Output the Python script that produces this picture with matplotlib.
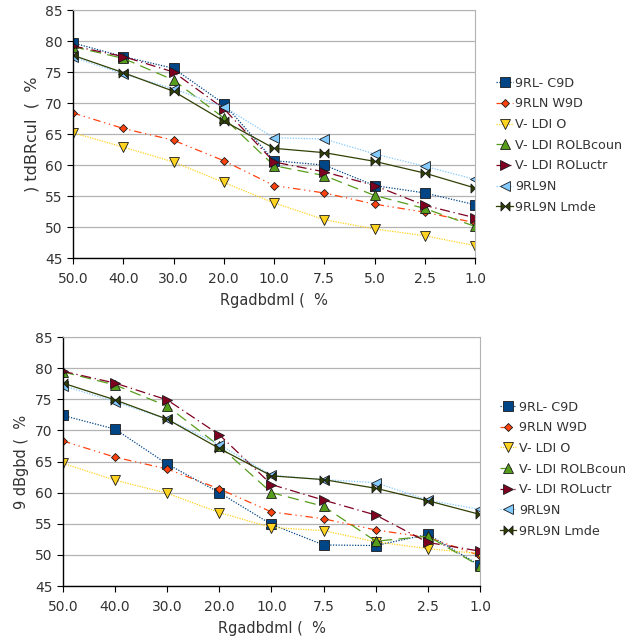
import matplotlib
matplotlib.use("Agg")
import matplotlib.pyplot as plt
from matplotlib.path import Path
import numpy as np

categories = ["50.0", "40.0", "30.0", "20.0", "10.0", "7.5", "5.0", "2.5", "1.0"]
series_names = ["9RL- C9D", "9RLN W9D", "V- LDI O", "V- LDI ROLBcoun",
                "V- LDI ROLuctr", "9RL9N", "9RL9N Lmde"]

top_blue = [79.7, 77.5, 75.6, 69.9, 60.7, 60.0, 56.7, 55.5, 53.6]
top_orange = [68.4, 65.9, 64.0, 60.7, 56.7, 55.5, 53.7, 52.4, 50.7]
top_yellow = [65.2, 62.9, 60.5, 57.2, 53.9, 51.2, 49.7, 48.6, 47.0]
top_green = [79.1, 77.2, 73.7, 67.6, 59.9, 58.3, 55.1, 53.0, 50.1]
top_red = [79.2, 77.5, 75.0, 69.1, 60.5, 58.9, 56.7, 53.5, 51.5]
top_lblue = [77.4, 74.7, 72.3, 69.4, 64.4, 64.2, 61.8, 59.8, 57.7]
top_olive = [77.7, 74.9, 71.9, 67.1, 62.7, 62.0, 60.6, 58.7, 56.3]

bot_blue = [72.4, 70.2, 64.6, 60.0, 54.9, 51.6, 51.5, 53.3, 48.3]
bot_orange = [68.3, 65.7, 63.8, 60.6, 56.9, 55.8, 54.0, 52.8, 49.9]
bot_yellow = [64.7, 62.0, 59.9, 56.8, 54.4, 53.9, 52.1, 51.0, 50.2]
bot_green = [79.4, 77.3, 73.9, 67.5, 60.0, 57.8, 52.2, 53.0, 48.2]
bot_red = [79.5, 77.6, 74.9, 69.3, 61.3, 58.8, 56.4, 52.0, 50.6]
bot_lblue = [77.2, 74.6, 71.8, 67.7, 62.8, 62.1, 61.6, 58.8, 57.3]
bot_olive = [77.6, 74.9, 71.8, 67.1, 62.7, 62.1, 60.7, 58.7, 56.5]

top_series = [top_blue, top_orange, top_yellow, top_green, top_red, top_lblue, top_olive]
bot_series = [bot_blue, bot_orange, bot_yellow, bot_green, bot_red, bot_lblue, bot_olive]

top_ylabel = ") tdBRcul  (  %"
bot_ylabel = "9 dBgbd (  %"
xlabel = "Rgadbdml (  %"

bowtie = Path([(-1, -1), (-1, 1), (0, 0), (1, 1), (1, -1), (0, 0), (-1, -1)],
              [Path.MOVETO, Path.LINETO, Path.LINETO, Path.LINETO, Path.LINETO,
               Path.LINETO, Path.CLOSEPOLY])

styles = [
    dict(color="#004586", ls=(0, (1, 1.2)), marker="s", ms=6.5),
    dict(color="#ff420e", ls=(0, (6, 3, 1, 3, 1, 3)), marker="D", ms=4.5),
    dict(color="#ffd320", ls=(0, (1, 1)), marker="v", ms=6.5),
    dict(color="#579d1c", ls=(0, (9, 5)), marker="^", ms=6.5),
    dict(color="#7e0021", ls=(0, (8, 3, 1, 3)), marker=">", ms=6.5),
    dict(color="#83caff", ls=(0, (1, 1.2)), marker="<", ms=6.5),
    dict(color="#314004", ls="-", marker=bowtie, ms=6.5),
]

fig = plt.figure(figsize=(6.31, 6.42), dpi=100)
ax1 = fig.add_axes([0.1157, 0.598, 0.6371, 0.3864])
ax2 = fig.add_axes([0.0998, 0.0872, 0.6609, 0.3878])

x = np.arange(len(categories))

def draw(ax, data, ylabel, ylabel_size, leg_x, leg_y):
    for name, vals, st in zip(series_names, data, styles):
        ax.plot(x, vals, color=st["color"], linestyle=st["ls"], linewidth=0.9,
                marker=st["marker"], markersize=st["ms"], markerfacecolor=st["color"],
                markeredgecolor="#1a1a1a", markeredgewidth=0.6, label=name)
    ax.set_xlim(0, len(categories) - 1)
    ax.set_ylim(45, 85)
    ax.set_yticks(np.arange(45, 86, 5))
    ax.set_xticks(x)
    ax.set_xticklabels(categories)
    ax.yaxis.grid(True, color="#b3b3b3", linewidth=0.9)
    ax.set_axisbelow(True)
    for s in ["top", "right"]:
        ax.spines[s].set_color("#b3b3b3")
    for s in ["left", "bottom"]:
        ax.spines[s].set_color("#000000")
        ax.spines[s].set_linewidth(1.0)
    ax.tick_params(axis="both", labelsize=10, colors="#333333", length=4, width=0.8)
    ax.tick_params(axis="both", which="both", color="#000000")
    ax.tick_params(axis="x", pad=6)
    ax.set_ylabel(ylabel, fontsize=ylabel_size, color="#333333")
    ax.set_xlabel(xlabel, fontsize=10.5, color="#333333", labelpad=5)
    leg = ax.legend(loc="center left", bbox_to_anchor=(leg_x, leg_y), frameon=False,
                    fontsize=9.2, handlelength=1.3, handletextpad=0.2,
                    labelspacing=0.6, borderaxespad=0)
    for t in leg.get_texts():
        t.set_color("#333333")

draw(ax1, top_series, top_ylabel, 11.5, 1.04, 0.455)
draw(ax2, bot_series, bot_ylabel, 10.5, 1.035, 0.47)

fig.savefig("out.png", dpi=100)
